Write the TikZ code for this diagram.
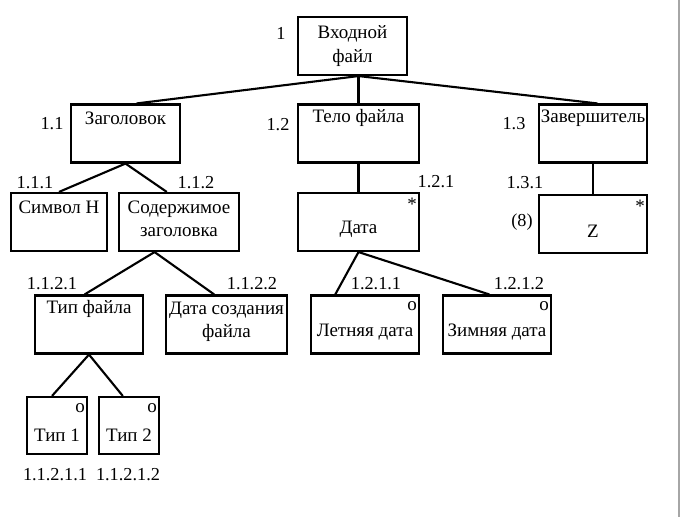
\documentclass[tikz,border=0pt]{standalone}
\usepackage{fontspec}
\setmainfont{Liberation Serif}
\usetikzlibrary{calc}

\tikzset{
  blk/.style={draw,line width=1.5pt,minimum height=1.45cm,inner sep=0pt},
  txt/.style={font=\fontsize{13.5}{16.5}\selectfont,align=center},
  num/.style={font=\fontsize{13}{15}\selectfont,inner sep=0pt},
  opt/.style={anchor=north east,inner sep=2pt,yshift=-3pt,txt},
  link/.style={line width=1.5pt}
}

\begin{document}
\begin{tikzpicture}[x=0.025cm,y=-0.025cm]
  \useasboundingbox (0,0) rectangle (680,517);
  \fill[white] (0,0) rectangle (680,517);
  \draw[gray!70,line width=0.8pt] (679,0) -- (679,517);

  % level 0
  \node[blk,minimum width=2.725cm,
        label={[txt]center:Входной\\файл}] (root) at (352.5,46) {};
  % level 1
  \node[blk,minimum width=2.725cm,
        label={[txt,yshift=11pt]center:Заголовок}] (hdr) at (125.5,133.5) {};
  \node[blk,minimum width=3.025cm,
        label={[txt,yshift=11pt]center:Тело файла}] (body) at (358.5,133.5) {};
  \node[blk,minimum width=2.7cm,
        label={[txt,yshift=11pt]center:Завершитель}] (term) at (593,133.5) {};
  % level 2
  \node[blk,minimum width=2.4cm,
        label={[txt,yshift=10.5pt]center:Символ Н}] (sym) at (59,222) {};
  \node[blk,minimum width=3.0cm,
        label={[txt,yshift=2pt]center:Содержимое\\заголовка}] (cont) at (179,222) {};
  \node[blk,minimum width=3.025cm,
        label={[txt,yshift=-5pt]center:Дата},
        label={[opt,yshift=1pt]north east:*}] (date) at (358.5,222) {};
  \node[blk,minimum width=2.7cm,
        label={[txt,yshift=-5pt]center:Z},
        label={[opt,yshift=1pt]north east:*}] (zz) at (593,224) {};
  % level 3
  \node[blk,minimum width=2.7cm,
        label={[txt,yshift=11pt]center:Тип файла}] (ftype) at (89,324.5) {};
  \node[blk,minimum width=3.025cm,
        label={[txt,yshift=2pt]center:Дата создания\\файла}] (cdate) at (226.5,324.5) {};
  \node[blk,minimum width=2.7cm,
        label={[txt,yshift=-5.5pt]center:Летняя дата},
        label={[opt]north east:o}] (summer) at (365,324.5) {};
  \node[blk,minimum width=2.7cm,
        label={[txt,yshift=-5.5pt]center:Зимняя дата},
        label={[opt]north east:o}] (winter) at (497,324.5) {};
  % level 4
  \node[blk,minimum width=1.5cm,minimum height=1.425cm,
        label={[txt,yshift=-7pt]center:Тип 1},
        label={[opt]north east:o}] (t1) at (57,425.5) {};
  \node[blk,minimum width=1.5cm,minimum height=1.425cm,
        label={[txt,yshift=-7pt]center:Тип 2},
        label={[opt]north east:o}] (t2) at (129,425.5) {};

  % numbers
  \node[num] (n1) at (281,33) {1};
  \node[num] (n11) at (52,124) {1.1};
  \node[num] (n12) at (278,125) {1.2};
  \node[num] (n13) at (514,124) {1.3};
  \node[num] (n111) at (35,183) {1.1.1};
  \node[num] (n112) at (196,183) {1.1.2};
  \node[num] (n121) at (436,182) {1.2.1};
  \node[num] (n131) at (525,183) {1.3.1};
  \node[num] (n8) at (522,222) {(8)};
  \node[num] (n1121) at (52,284) {1.1.2.1};
  \node[num] (n1122) at (252,284) {1.1.2.2};
  \node[num] (n1211) at (376,284) {1.2.1.1};
  \node[num] (n1212) at (519,284) {1.2.1.2};
  \node[num] (n11211) at (55,475) {1.1.2.1.1};
  \node[num] (n11212) at (128,475) {1.1.2.1.2};

  % links
  \coordinate (rb) at (root.south -| body.north);
  \draw[link] (rb) -- ($(hdr.north west)!0.6!(hdr.north east)$);
  \draw[link] (rb) -- (body.north);
  \draw[link] (rb) -- ($(term.north west)!0.54!(term.north east)$);
  \draw[link] (hdr.south) -- ($(sym.north west)!0.5!(sym.north east)$);
  \draw[link] (hdr.south) -- ($(cont.north west)!0.4!(cont.north east)$);
  \draw[link] (body.south) -- (date.north);
  \draw[link] (term.south) -- (zz.north);
  \draw[link] ($(cont.south west)!0.3!(cont.south east)$) -- ($(ftype.north west)!0.46!(ftype.north east)$);
  \draw[link] ($(cont.south west)!0.3!(cont.south east)$) -- ($(cdate.north west)!0.4!(cdate.north east)$);
  \draw[link] (date.south) -- ($(summer.north west)!0.23!(summer.north east)$);
  \draw[link] (date.south) -- ($(winter.north west)!0.43!(winter.north east)$);
  \draw[link] (ftype.south) -- ($(t1.north west)!0.42!(t1.north east)$);
  \draw[link] (ftype.south) -- ($(t2.north west)!0.4!(t2.north east)$);
\end{tikzpicture}
\end{document}
